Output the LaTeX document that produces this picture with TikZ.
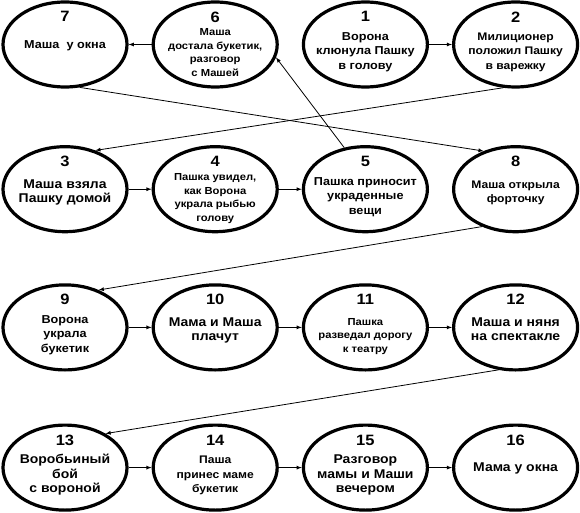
\documentclass[tikz,border=0pt]{standalone}
\usepackage{fontspec}
\setmainfont[FakeStretch=1.1]{Liberation Sans}
\usetikzlibrary{shapes,positioning}

\begin{document}
\begin{tikzpicture}[x=1pt, y=1pt, node distance=23pt, auto]

\tikzstyle{scene}=[ellipse, draw=black, line width=3.2pt, minimum width=124pt, minimum height=85pt, inner xsep=-25pt, inner ysep=-20pt, align=center, text depth=0pt, font=\fontsize{11.5}{14.5}\selectfont\bfseries]
\tikzstyle{stor}=[font=\fontsize{12.7}{14.5}\selectfont\bfseries]
\tikzstyle{mindre}=[font=\fontsize{11}{14.5}\selectfont\bfseries]
\tikzstyle{liten}=[font=\fontsize{10.2}{13.5}\selectfont\bfseries]
\tikzstyle{en}=[text height=8pt]
\tikzstyle{to}=[text height=27pt]
\tikzstyle{tre}=[text height=50pt]
\tikzstyle{fire}=[text height=64pt]
\tikzstyle{nummer}=[anchor=north, label distance=-11pt, inner sep=0pt, font=\fontsize{15}{16}\selectfont\bfseries]
\tikzstyle{strek}=[->, >=latex, line width=0.8pt]

\useasboundingbox (0,0) rectangle (580,-513);

% first row
\node[scene, en, label={[nummer]90:7}] (s7) at (65,-44.5) {Маша\ \ у окна};
\node[scene, liten, fire, right=of s7, label={[nummer]90:6}] (s6) {Маша\\достала букетик,\\разговор\\с Машей};
\node[scene, tre, right=of s6, label={[nummer]90:1}] (s1) {Ворона\\клюнула Пашку\\в голову};
\node[scene, mindre, tre, right=of s1, label={[nummer]90:2}] (s2) {Милиционер\\положил Пашку\\в варежку};

% second row
\node[scene, stor, to, below=56.5pt of s7, label={[nummer]90:3}] (s3) {Маша взяла\\Пашку домой};
\node[scene, liten, fire, right=of s3, label={[nummer]90:4}] (s4) {Пашка увидел,\\как Ворона\\украла рыбью\\голову};
\node[scene, tre, right=of s4, label={[nummer]90:5}] (s5) {Пашка приносит\\украденные\\вещи};
\node[scene, mindre, to, right=of s5, label={[nummer]90:8}] (s8) {Маша открыла\\форточку};

% third row
\node[scene, tre, below=50pt of s3, label={[nummer]90:9}] (s9) {Ворона\\украла\\букетик};
\node[scene, stor, to, right=of s9, label={[nummer]90:10}] (s10) {Мама и Маша\\плачут};
\node[scene, liten, tre, right=of s10, label={[nummer]90:11}] (s11) {Пашка\\разведал дорогу\\к театру};
\node[scene, stor, to, right=of s11, label={[nummer]90:12}] (s12) {Маша и няня\\на спектакле};

% fourth row
\node[scene, stor, tre, below=52pt of s9, label={[nummer]90:13}] (s13) {Воробьиный\\бой\\с вороной};
\node[scene, mindre, tre, right=of s13, label={[nummer]90:14}] (s14) {Паша\\принес маме\\букетик};
\node[scene, stor, tre, right=of s14, label={[nummer]90:15}] (s15) {Разговор\\мамы и Маши\\вечером};
\node[scene, stor, en, right=of s15, label={[nummer]90:16}] (s16) {Мама у окна};

\draw[strek] (s1) -- (s2);
\draw[strek] (s2.-106) -- (s3.52);
\draw[strek] (s3) -- (s4);
\draw[strek] (s4) -- (s5);
\draw[strek] (s5.117) -- (s6.-12);
\draw[strek] (s6) -- (s7);
\draw[strek] (s7.-71) -- (s8.130);
\draw[strek] (s8.-132) -- (s9.48);
\draw[strek] (s9) -- (s10);
\draw[strek] (s10) -- (s11);
\draw[strek] (s11) -- (s12);
\draw[strek] (s12.-112) -- (s13.40);
\draw[strek] (s13) -- (s14);
\draw[strek] (s14) -- (s15);
\draw[strek] (s15) -- (s16);

\end{tikzpicture}
\end{document}
